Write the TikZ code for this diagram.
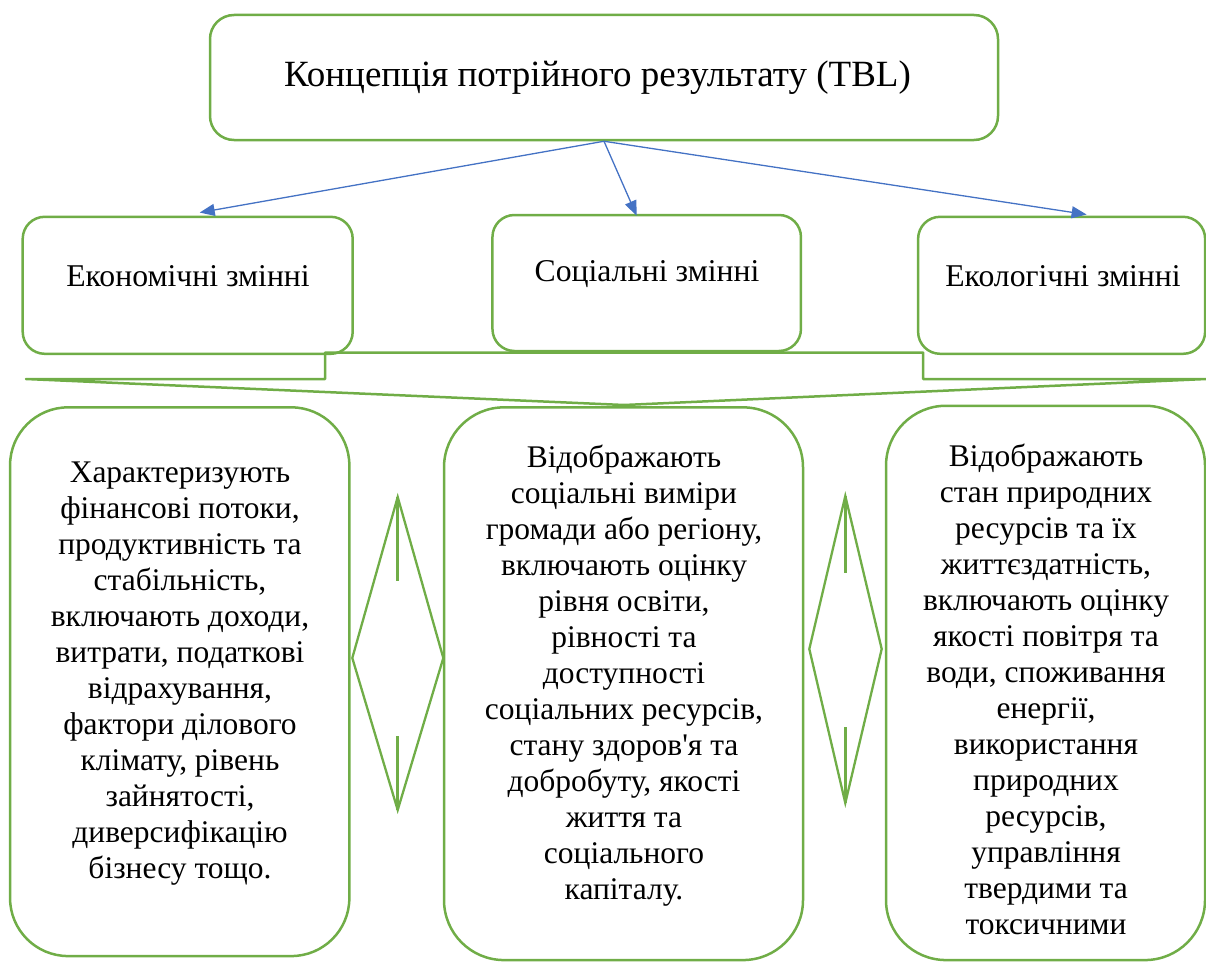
\documentclass[tikz,border=0pt]{standalone}
\usepackage{fontspec}
\setmainfont{Liberation Serif}[Ligatures=TeXOff]
\usetikzlibrary{arrows.meta}
\definecolor{grn}{HTML}{70AD47}
\definecolor{blu}{HTML}{4472C4}
\begin{document}
\begin{tikzpicture}[x=1pt,y=-1pt,
  gbox/.style={draw=grn, line width=2.5pt, inner sep=0pt},
  topbox/.style={gbox, rounded corners=24pt},
  midbox/.style={gbox, rounded corners=22pt},
  bigbox/.style={gbox, rounded corners=58pt},
  arr/.style={draw=blu, line width=1.3pt, -{Triangle[length=15pt,width=12pt]}},
  ttl/.style={inner sep=0pt, anchor=base, font=\fontsize{37}{44}\selectfont},
  mid/.style={inner sep=0pt, anchor=base, font=\fontsize{31.7}{36}\selectfont},
  body/.style={inner sep=0pt, align=center, font=\fontsize{31.5}{36}\selectfont},
  brace/.style={draw=grn, line width=2.5pt, line join=round},
  dia/.style={draw=grn, line width=2.3pt},
  stem/.style={draw=grn, line width=3pt}
]
\useasboundingbox (0,0) rectangle (1206,963);

% top box
\node[topbox, minimum width=788pt, minimum height=125pt] (top) at (604,77.5) {};
\node[ttl] (title) at (597.5,87) {Концепція потрійного результату (TBL)};

% middle boxes
\node[midbox, minimum width=330pt, minimum height=137pt] (eco) at (187.7,285.3) {};
\node[midbox, minimum width=308.5pt, minimum height=136pt] (soc) at (646.7,283) {};
\node[midbox, minimum width=287pt, minimum height=137pt] (env) at (1061.6,285.3) {};
\node[mid] (ecot) at (188,286) {Економічні змінні};
\node[mid] (soct) at (647,281) {Соціальні змінні};
\node[mid] (envt) at (1063,286) {Екологічні змінні};

% arrows
\draw[arr] (top.south) -- ([xshift=12pt,yshift=3pt]eco.north);
\draw[arr] (top.south) -- ([xshift=-10pt,yshift=-2pt]soc.north);
\draw[arr] (top.south) -- ([xshift=25pt,yshift=1pt]env.north);

% brace-like connector shape
\coordinate (bl) at (26,379);
\coordinate (bs1) at (325,379);
\coordinate (bs2) at (325,352.5);
\coordinate (bs3) at (923,352.5);
\coordinate (bs4) at (923,379);
\coordinate (br) at (1206,379);
\coordinate (bm) at (624,405);
\draw[brace] (bl) -- (bs1) -- (bs2) -- (bs3) -- (bs4) -- (br) -- (bm) -- cycle;

% bottom boxes
\node[bigbox, minimum width=339.3pt, minimum height=548.7pt] (boxa) at (179.7,681.7) {};
\node[bigbox, rounded corners=60pt, minimum width=359pt, minimum height=552.7pt] (boxb) at (623.5,683.7) {};
\node[bigbox, rounded corners=60pt, minimum width=319pt, minimum height=554.3pt] (boxc) at (1045.5,682.9) {};

\node[body] (ta) at (180,674) {Характеризують\\фінансові потоки,\\продуктивність та\\стабільність,\\включають доходи,\\витрати, податкові\\відрахування,\\фактори ділового\\клімату, рівень\\зайнятості,\\диверсифікацію\\бізнесу тощо.};
\node[body] (tb) at (624,676) {Відображають\\соціальні виміри\\громади або регіону,\\включають оцінку\\рівня освіти,\\рівності та\\доступності\\соціальних ресурсів,\\стану здоров'я та\\добробуту, якості\\життя та\\соціального\\капіталу.};
\node[body] (tc) at (1046,689) {Відображають\\стан природних\\ресурсів та їх\\життєздатність,\\включають оцінку\\якості повітря та\\води, споживання\\енергії,\\використання\\природних\\ресурсів,\\управління\\твердими та\\токсичними};

% diamonds
\coordinate (d1t) at (397.7,497);
\coordinate (d1l) at (352.3,658);
\coordinate (d1b) at (397.7,810);
\coordinate (d1r) at (443.3,658);
\coordinate (d1a) at (397.7,581);
\coordinate (d1c) at (397.7,736);
\draw[dia, line join=miter] (d1t) -- (d1l) -- (d1b) -- (d1r) -- cycle;
\draw[stem] (d1t) -- (d1a);
\draw[stem] (d1c) -- (d1b);

\coordinate (d2t) at (845.3,496);
\coordinate (d2l) at (809.3,649);
\coordinate (d2b) at (845.3,803);
\coordinate (d2r) at (881.7,649);
\coordinate (d2a) at (845.3,573);
\coordinate (d2c) at (845.3,727);
\draw[dia, line join=miter] (d2t) -- (d2l) -- (d2b) -- (d2r) -- cycle;
\draw[stem] (d2t) -- (d2a);
\draw[stem] (d2c) -- (d2b);
\end{tikzpicture}
\end{document}
